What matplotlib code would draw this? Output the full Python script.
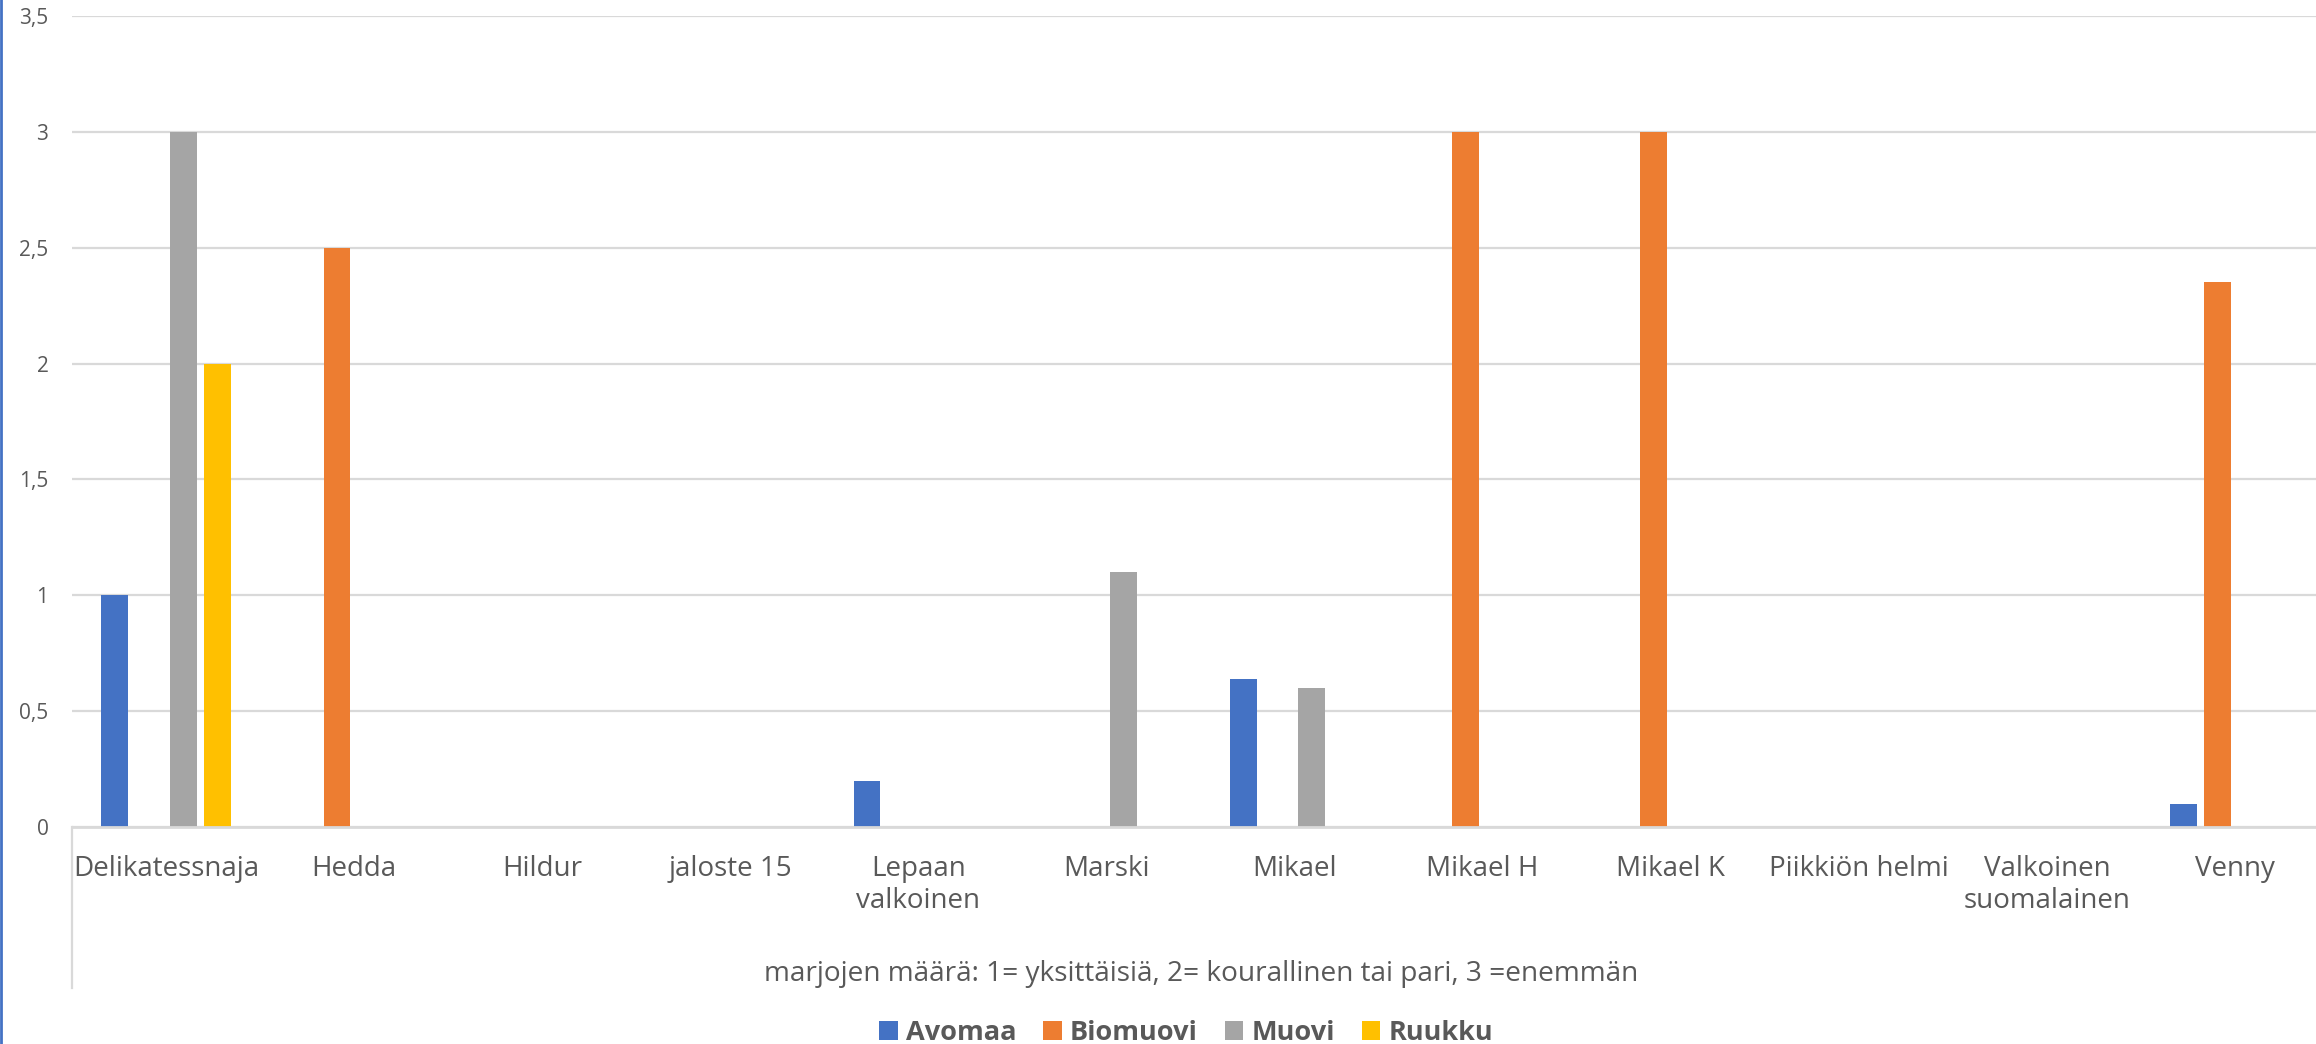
import matplotlib
matplotlib.use("Agg")
import matplotlib.pyplot as plt
import numpy as np
from matplotlib.lines import Line2D
from matplotlib.patches import Patch

categories = ["Delikatessnaja", "Hedda", "Hildur", "jaloste 15", "Lepaan\nvalkoinen",
              "Marski", "Mikael", "Mikael H", "Mikael K", "Piikkiön helmi",
              "Valkoinen\nsuomalainen", "Venny"]
series_names = ["Avomaa", "Biomuovi", "Muovi", "Ruukku"]
avomaa   = [1.0, 0, 0, 0, 0.2, 0, 0.64, 0, 0, 0, 0, 0.1]
biomuovi = [0, 2.5, 0, 0, 0, 0, 0, 3.0, 3.0, 0, 0, 2.35]
muovi    = [3.0, 0, 0, 0, 0, 1.1, 0.6, 0, 0, 0, 0, 0]
ruukku   = [2.0, 0, 0, 0, 0, 0, 0, 0, 0, 0, 0, 0]
yticks = [0, 0.5, 1, 1.5, 2, 2.5, 3, 3.5]
ytick_labels = ["0", "0,5", "1", "1,5", "2", "2,5", "3", "3,5"]
axis_title = "marjojen määrä: 1= yksittäisiä, 2= kourallinen tai pari, 3 =enemmän"

colors = ["#4472C4", "#ED7D31", "#A5A5A5", "#FFC000"]
text_color = "#595959"
grid_color = "#D9D9D9"

plt.rcParams['font.family'] = ['Open Sans', 'DejaVu Sans']

W, H = 2316, 1044
fig = plt.figure(figsize=(W / 100, H / 100), dpi=100)
fig.patch.set_facecolor("white")

ax_left, ax_right, ax_bottom, ax_top = 72, 2329, 827, 16
ax = fig.add_axes([ax_left / W, (H - ax_bottom) / H,
                   (ax_right - ax_left) / W, (ax_bottom - ax_top) / H])

x = np.arange(len(categories))
bw = 0.142
step = 0.182
for i, (vals, c, name) in enumerate(zip([avomaa, biomuovi, muovi, ruukku], colors, series_names)):
    ax.bar(x + (i - 1.5) * step, vals, width=bw, color=c, linewidth=0, zorder=3, label=name)

ax.set_xlim(-0.5, len(categories) - 0.5)
ax.set_ylim(0, 3.5)
ax.set_yticks(yticks)
ax.set_yticklabels(ytick_labels)
ax.set_xticks(x)
ax.set_xticklabels(categories, linespacing=1.18)

for sp in ["top", "right", "left"]:
    ax.spines[sp].set_visible(False)
ax.spines["bottom"].set_color(grid_color)
ax.spines["bottom"].set_linewidth(2)
ax.spines["bottom"].set_zorder(4)

ax.yaxis.grid(True, color=grid_color, linewidth=1.6, zorder=0)
ax.set_axisbelow(True)
ax.tick_params(axis="y", length=0, pad=17, labelsize=15, labelcolor=text_color)
ax.tick_params(axis="x", length=0, pad=20, labelsize=20, labelcolor=text_color)

# multi-level category axis left boundary line
fig.add_artist(Line2D([ax_left / W, ax_left / W], [(H - 827) / H, (H - 988) / H],
                      transform=fig.transFigure, color=grid_color, linewidth=1.6))

# axis title
fig.text(1201 / W, (H - 981) / H, axis_title, ha="center", va="baseline",
         fontsize=20.2, color=text_color)

# legend
handles = [Patch(facecolor=c, edgecolor="none", label=n) for c, n in zip(colors, series_names)]
leg = fig.legend(handles=handles, loc="center", bbox_to_anchor=(1186 / W, (H - 1033) / H),
                 bbox_transform=fig.transFigure, ncol=4, frameon=False,
                 prop={"size": 19.5, "weight": "bold"}, handlelength=0.68, handleheight=0.68,
                 handletextpad=0.3, columnspacing=1.0, borderpad=0, borderaxespad=0)
for t in leg.get_texts():
    t.set_color(text_color)

# left blue border of the chart frame
fig.add_artist(Line2D([1.3 / W, 1.3 / W], [0, 1], transform=fig.transFigure,
                      color="#4472C4", linewidth=2))

fig.savefig("out.png", dpi=100, facecolor="white")
